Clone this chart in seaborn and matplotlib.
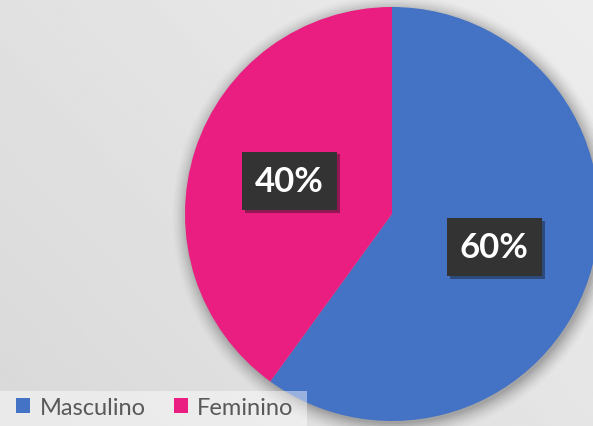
import numpy as np
import matplotlib
matplotlib.use("Agg")
import matplotlib.pyplot as plt
import matplotlib.patheffects as pe
from matplotlib.patches import Rectangle, Circle, Patch
import seaborn as sns

# Data
categories = ["Masculino", "Feminino"]
shares = [60, 40]
colors = ["#4472C4", "#E91E80"]

sns.set_theme(style="white")
plt.rcParams["font.family"] = ["Lato", "DejaVu Sans"]

W, H = 593, 427
fig = plt.figure(figsize=(W / 100, H / 100), dpi=100)

# Soft diagonal grey gradient behind everything
bg = fig.add_axes([0, 0, 1, 1], zorder=-2)
yy, xx = np.mgrid[0:1:200j, 0:1:300j]
grad = 0.85 + 0.08 * (0.6 * xx + 0.4 * yy)
bg.imshow(grad, cmap="gray", vmin=0, vmax=1, origin="lower",
          extent=[0, 1, 0, 1], aspect="auto", interpolation="bicubic")
bg.set_axis_off()

# Pie axes: centre at (392, 215) px, radius 207 px
cx, cy, r = 392, 215, 207
ax = fig.add_axes([(cx - r) / W, (H - cy - r) / H, 2 * r / W, 2 * r / H])
ax.set_axis_off()

# faint halo shadow around the pie
for k, a in zip(np.linspace(1.07, 1.0, 8), np.linspace(0.015, 0.06, 8)):
    ax.add_patch(Circle((0.01, -0.015), k, color="black", alpha=a, lw=0,
                        zorder=0, clip_on=False))

wedges, texts, autotexts = ax.pie(
    shares, colors=colors, startangle=90, counterclock=False,
    autopct="%.0f%%", pctdistance=0.52, radius=1.0,
    wedgeprops=dict(linewidth=0, zorder=2),
    textprops=dict(color="white", fontsize=25, fontweight="bold"),
)
for t in autotexts:
    t.set_zorder(5)
    t.set_bbox(dict(boxstyle="square,pad=0.38", facecolor="#333333",
                    edgecolor="none"))
    t.get_bbox_patch().set_path_effects(
        [pe.SimplePatchShadow(offset=(2, -2), alpha=0.4), pe.Normal()])
ax.set_xlim(-1, 1)
ax.set_ylim(-1, 1)
ax.set_aspect("equal")

# Legend strip at the bottom-left
fig.patches.append(Rectangle((0, 0), 307 / W, 35 / H, transform=fig.transFigure,
                             facecolor="white", alpha=0.45, edgecolor="none",
                             zorder=5))
handles = [Patch(facecolor=c, edgecolor="none") for c in colors]
leg = fig.legend(handles, categories, loc="lower left", bbox_to_anchor=(4 / W, -4 / H),
                 ncol=2, frameon=False, fontsize=17, handlelength=0.6,
                 handleheight=0.6, handletextpad=0.4, columnspacing=1.2,
                 borderaxespad=0.1)
for t in leg.get_texts():
    t.set_color("#595959")
leg.set_zorder(6)

fig.savefig("out.png", dpi=100)
